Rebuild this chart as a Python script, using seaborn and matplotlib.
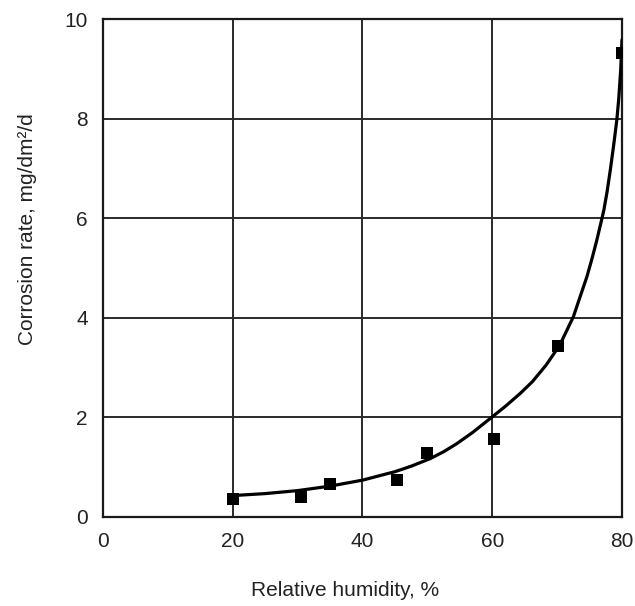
import matplotlib
matplotlib.use("Agg")
import matplotlib.pyplot as plt
import seaborn as sns
import pandas as pd

# measured points
humidity = [20.1, 30.5, 35.0, 45.3, 49.9, 60.2, 70.1, 80.0]
corrosion = [0.36, 0.41, 0.66, 0.74, 1.28, 1.56, 3.43, 9.32]

# fitted curve
curve_x = [20, 25, 30, 35, 40, 45, 47.5, 50.4, 52.5, 54.5, 57, 59.7, 62, 64.3, 66.2, 68.3,
           70.4, 72.5, 74.6, 75.4, 76.1, 76.7, 77.2, 77.7, 78.2, 78.7, 79.2, 79.5, 79.8, 80]
curve_y = [0.43, 0.47, 0.53, 0.62, 0.74, 0.91, 1.02, 1.17, 1.31, 1.47, 1.70, 1.98, 2.22, 2.48,
           2.72, 3.05, 3.45, 4.02, 4.83, 5.2, 5.55, 5.88, 6.16, 6.53, 6.97, 7.45, 7.97, 8.4,
           8.98, 9.58]

x_ticks = [0, 20, 40, 60, 80]
y_ticks = [0, 2, 4, 6, 8, 10]

sns.set_style("white")
plt.rcParams['font.family'] = ['Liberation Sans Narrow', 'Liberation Sans', 'DejaVu Sans']

fig = plt.figure(figsize=(6.35, 6.06), dpi=100)
ax = fig.add_axes([103/635, 1-517/606, 519/635, 498/606])

pts = pd.DataFrame({"x": humidity, "y": corrosion})
crv = pd.DataFrame({"x": curve_x, "y": curve_y})

for v in x_ticks[1:-1]:
    ax.axvline(v, color="#2a2a2a", lw=1.4, zorder=1)
for v in y_ticks[1:-1]:
    ax.axhline(v, color="#2a2a2a", lw=1.4, zorder=1)

sns.lineplot(data=crv, x="x", y="y", ax=ax, color="black", lw=2.3, zorder=3,
             solid_joinstyle="round", solid_capstyle="round")
sns.scatterplot(data=pts, x="x", y="y", ax=ax, marker="s", s=85, color="black",
                edgecolor="black", linewidth=0, zorder=4)

ax.set_xlim(0, 80)
ax.set_ylim(0, 10)
ax.set_xticks(x_ticks)
ax.set_yticks(y_ticks)
ax.tick_params(axis="both", length=0, labelsize=15, colors="#222222", pad=11)
for s in ax.spines.values():
    s.set_color("#1a1a1a")
    s.set_linewidth(1.6)

ax.set_xlabel("Relative humidity, %", fontsize=15, color="#222222")
ax.set_ylabel("Corrosion rate, mg/dm²/d", fontsize=15, color="#222222")
ax.xaxis.set_label_coords(0.466, -0.128)
ax.yaxis.set_label_coords(-0.128, 0.578)

fig.savefig("out.png", dpi=100)
